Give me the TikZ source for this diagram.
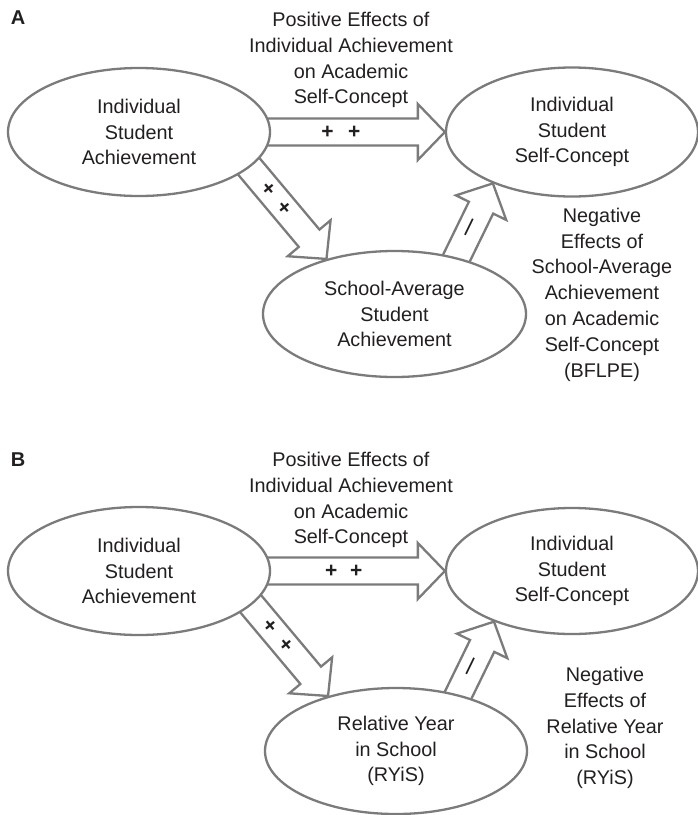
\documentclass[tikz,border=0pt]{standalone}
\usepackage{fontspec}
\setmainfont{Liberation Sans}
\usetikzlibrary{shapes.geometric,calc}
\pgfdeclarelayer{back}
\pgfsetlayers{back,main}
\definecolor{linegray}{HTML}{7B7B7B}
\definecolor{ink}{HTML}{231F20}
\newcommand\bodyfont{\fontsize{19.8}{25.8}\selectfont}
% block arrow geometry: shaft half-width, head length, head half-width
\def\arrW{13.5pt}
\def\arrHL{27pt}
\def\arrHW{28pt}
\tikzset{
  oval/.style={ellipse, draw=linegray, line width=2.3pt, fill=white,
    inner sep=0pt, align=center, text=ink, font=\bodyfont},
  caption/.style={align=center, text=ink, font=\bodyfont},
  panel/.style={text=ink, font=\fontsize{20}{24}\selectfont\bfseries},
  possign/.style={sloped, inner sep=0pt, text=ink,
    font=\fontsize{21}{21}\selectfont\bfseries},
  negsign/.style={sloped, inner sep=0pt, text=ink,
    font=\fontsize{18}{18}\selectfont\bfseries},
  blockarrow/.style={draw=linegray, line width=2.3pt, fill=white,
    line join=miter,
    to path={
      ($(\tikztostart)!\arrW!90:(\tikztotarget)$)
      -- ($(\tikztotarget)!\arrHL!(\tikztostart)!\arrW!-90:(\tikztostart)$)
      -- ($(\tikztotarget)!\arrHL!(\tikztostart)!\arrHW!-90:(\tikztostart)$)
      -- (\tikztotarget)
      -- ($(\tikztotarget)!\arrHL!(\tikztostart)!\arrHW!90:(\tikztostart)$)
      -- ($(\tikztotarget)!\arrHL!(\tikztostart)!\arrW!90:(\tikztostart)$)
      -- ($(\tikztostart)!\arrW!-90:(\tikztotarget)$)
      -- cycle}}
}
\begin{document}
\begin{tikzpicture}[x=1pt,y=-1pt]
\useasboundingbox (0,0) rectangle (698,815);

% ---------- Panel A ----------
\node[panel] (lblA) at (18,18) {A};
\node[caption] (posA) at (351,60)
  {Positive Effects of\\Individual Achievement\\on Academic\\Self-Concept};
\node[oval, minimum width=262pt, minimum height=128pt] (a1) at (139,132)
  {Individual\\Student\\Achievement};
\node[oval, minimum width=252pt, minimum height=129pt] (a2) at (572,132)
  {Individual\\Student\\Self-Concept};
\node[oval, minimum width=263pt, minimum height=126pt] (a3) at (394.5,314)
  {School-Average\\Student\\Achievement};
\node[caption] (negA) at (602,294.5)
  {Negative\\Effects of\\School-Average\\Achievement\\on Academic\\Self-Concept\\(BFLPE)};

\coordinate (ad1) at (a3.141);
\coordinate (ad0) at ($(ad1)+(130:130pt)$);
\coordinate (au1) at (a2.213);
\coordinate (au0) at ($(au1)+(244:95pt)$);

\begin{pgfonlayer}{back}
  \draw[blockarrow] (a1.center) to (a2.west);
  \draw[blockarrow] (ad0) to (ad1);
  \draw[blockarrow] (au0) to (au1);
\end{pgfonlayer}
\path (a1.center) -- (a2.west)
  node[possign, pos=0.616] (ah1) {+} node[possign, pos=0.704] (ah2) {+};
\path (ad0) -- (ad1)
  node[possign, pos=0.30] (ad+1) {+} node[possign, pos=0.49] (ad+2) {+};
\path (au0) -- (au1) node[negsign, pos=0.47] (au-) {—};

% ---------- Panel B ----------
\node[panel] (lblB) at (18,460) {B};
\node[caption] (posB) at (351,500)
  {Positive Effects of\\Individual Achievement\\on Academic\\Self-Concept};
\node[oval, minimum width=262pt, minimum height=128pt] (b1) at (139,571)
  {Individual\\Student\\Achievement};
\node[oval, minimum width=252pt, minimum height=126pt] (b2) at (572,571)
  {Individual\\Student\\Self-Concept};
\node[oval, minimum width=262pt, minimum height=126pt] (b3) at (396,751)
  {Relative Year\\in School\\(RYiS)};
\node[caption] (negB) at (605,728)
  {Negative\\Effects of\\Relative Year\\in School\\(RYiS)};

\coordinate (bd1) at (b3.141);
\coordinate (bd0) at ($(bd1)+(130:130pt)$);
\coordinate (bu1) at (b2.213);
\coordinate (bu0) at ($(bu1)+(244:95pt)$);

\begin{pgfonlayer}{back}
  \draw[blockarrow] (b1.center) to (b2.west);
  \draw[blockarrow] (bd0) to (bd1);
  \draw[blockarrow] (bu0) to (bu1);
\end{pgfonlayer}
\path (b1.center) -- (b2.west)
  node[possign, pos=0.629] (bh1) {+} node[possign, pos=0.71] (bh2) {+};
\path (bd0) -- (bd1)
  node[possign, pos=0.30] (bd+1) {+} node[possign, pos=0.49] (bd+2) {+};
\path (bu0) -- (bu1) node[negsign, pos=0.47] (bu-) {—};
\end{tikzpicture}
\end{document}
